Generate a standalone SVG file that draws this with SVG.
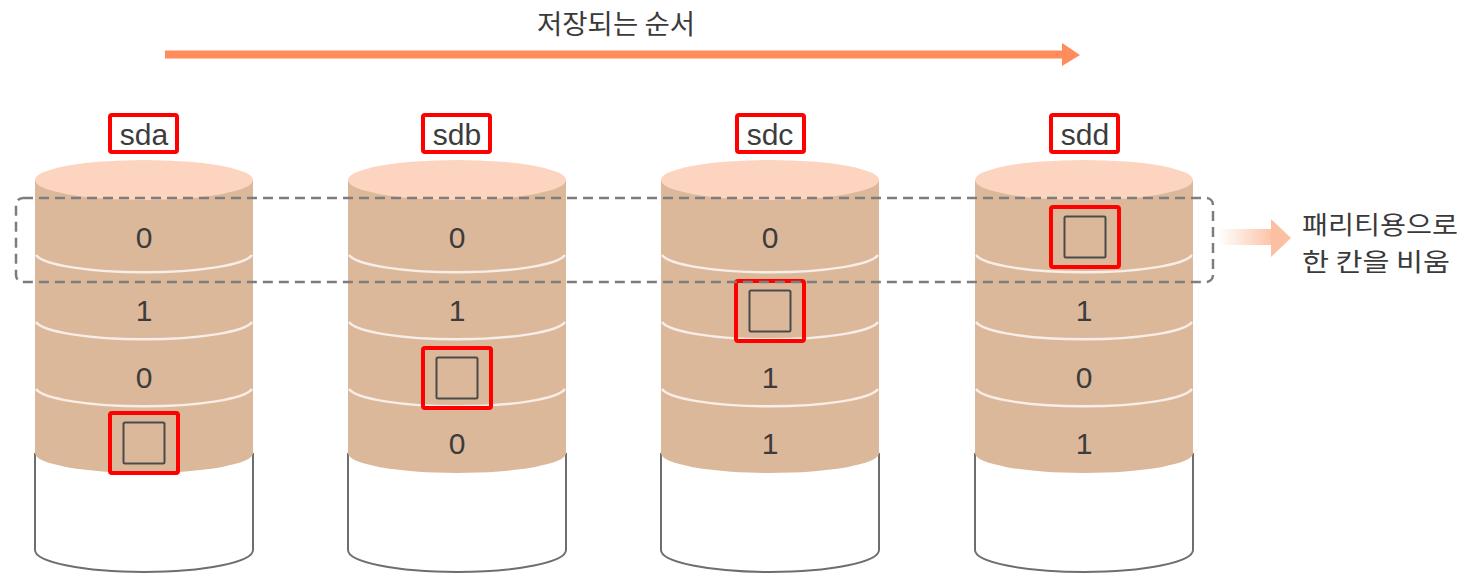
<svg xmlns="http://www.w3.org/2000/svg" width="1466" height="576" viewBox="0 0 1466 576">
  <defs>
    <style>
      .base { fill: #ffffff; stroke: #6e6e6e; stroke-width: 2; }
      .body { fill: #dcb89b; }
      .top { fill: #fdd4bf; }
      .sep { fill: none; stroke: #f7eee7; stroke-width: 2.5; }
      .val { font-family: "Liberation Sans", Arial, sans-serif; font-size: 30px; fill: #3c3c3c; text-anchor: middle; }
      .name-box { fill: #ffffff; stroke: #ff0000; stroke-width: 4; }
      .name { font-family: "Liberation Sans", Arial, sans-serif; font-size: 30px; fill: #3c3c3c; text-anchor: middle; }
      .mark { fill: none; stroke: #ff0000; stroke-width: 4; }
      .slot { fill: none; stroke: #4a4a4a; stroke-width: 2; }
      .ko { font-family: "Noto Sans CJK KR", sans-serif; fill: #3a3a3a; }
      .stripe { fill: none; stroke: #7d7d7d; stroke-width: 2.5; stroke-dasharray: 10 6; }
    </style>
    <linearGradient id="fade" x1="1218" y1="0" x2="1276" y2="0" gradientUnits="userSpaceOnUse">
      <stop offset="0" stop-color="#fbc0a2" stop-opacity="0"/>
      <stop offset="1" stop-color="#fbc0a2" stop-opacity="1"/>
    </linearGradient>
    <!-- one disk drawn around x = 0 -->
    <g id="disk">
      <path class="base" d="M -109 453 L -109 550 A 109 22 0 0 0 109 550 L 109 453"/>
      <path class="body" d="M -109 180 L -109 453 A 109 20 0 0 0 109 453 L 109 180 Z"/>
      <ellipse class="top" cx="0" cy="180" rx="109" ry="20"/>
      <path class="sep" d="M -108 255 A 109 20 0 0 0 108 255"/>
      <path class="sep" d="M -108 322 A 109 20 0 0 0 108 322"/>
      <path class="sep" d="M -108 389 A 109 20 0 0 0 108 389"/>
    </g>
    <g id="parity">
      <rect class="mark" x="-34" y="-30" width="68" height="60" rx="2"/>
      <rect class="slot" x="-20.5" y="-20.5" width="41" height="41" rx="1.5"/>
    </g>
  </defs>

  <!-- write order -->
  <g id="connectors">
    <g id="write-order">
      <text class="ko" x="537" y="34" font-size="27" textLength="158" lengthAdjust="spacingAndGlyphs">저장되는 순서</text>
      <line x1="165" y1="54.5" x2="1064" y2="54.5" stroke="#ff8c5a" stroke-width="8"/>
      <polygon points="1062,43 1080,55 1062,66" fill="#ff8c5a"/>
    </g>
    <g id="parity-note-arrow">
      <rect x="1218" y="229" width="56" height="16" fill="url(#fade)"/>
      <polygon points="1271,219 1291,238 1271,257" fill="#fbc0a2"/>
    </g>
  </g>

  <g id="sda">
    <use href="#disk" x="144"/>
    <rect class="name-box" x="110" y="115" width="67" height="37" rx="2"/>
    <text class="name" x="144" y="145">sda</text>
    <text class="val" x="144" y="248">0</text>
    <text class="val" x="144" y="321">1</text>
    <text class="val" x="144" y="388">0</text>
    <use href="#parity" x="144" y="443"/>
  </g>

  <g id="sdb">
    <use href="#disk" x="457"/>
    <rect class="name-box" x="423" y="115" width="67" height="37" rx="2"/>
    <text class="name" x="457" y="145">sdb</text>
    <text class="val" x="457" y="248">0</text>
    <text class="val" x="457" y="321">1</text>
    <use href="#parity" x="457" y="378"/>
    <text class="val" x="457" y="454">0</text>
  </g>

  <g id="sdc">
    <use href="#disk" x="770"/>
    <rect class="name-box" x="737" y="115" width="67" height="37" rx="2"/>
    <text class="name" x="770" y="145">sdc</text>
    <text class="val" x="770" y="248">0</text>
    <use href="#parity" x="770" y="311"/>
    <text class="val" x="770" y="388">1</text>
    <text class="val" x="770" y="454">1</text>
  </g>

  <g id="sdd">
    <use href="#disk" x="1084"/>
    <rect class="name-box" x="1051" y="115" width="67" height="37" rx="2"/>
    <text class="name" x="1085" y="145">sdd</text>
    <use href="#parity" x="1085" y="237"/>
    <text class="val" x="1084" y="321">1</text>
    <text class="val" x="1084" y="388">0</text>
    <text class="val" x="1084" y="454">1</text>
  </g>

  <!-- first stripe: parity row -->
  <g id="parity-stripe">
    <rect class="stripe" x="16" y="198" width="1197" height="84" rx="7"/>
  </g>

  <g id="parity-note">
    <text class="ko" x="1302" y="234" font-size="25" textLength="156" lengthAdjust="spacingAndGlyphs">패리티용으로</text>
    <text class="ko" x="1302" y="271" font-size="25" textLength="148" lengthAdjust="spacingAndGlyphs">한 칸을 비움</text>
  </g>
</svg>
